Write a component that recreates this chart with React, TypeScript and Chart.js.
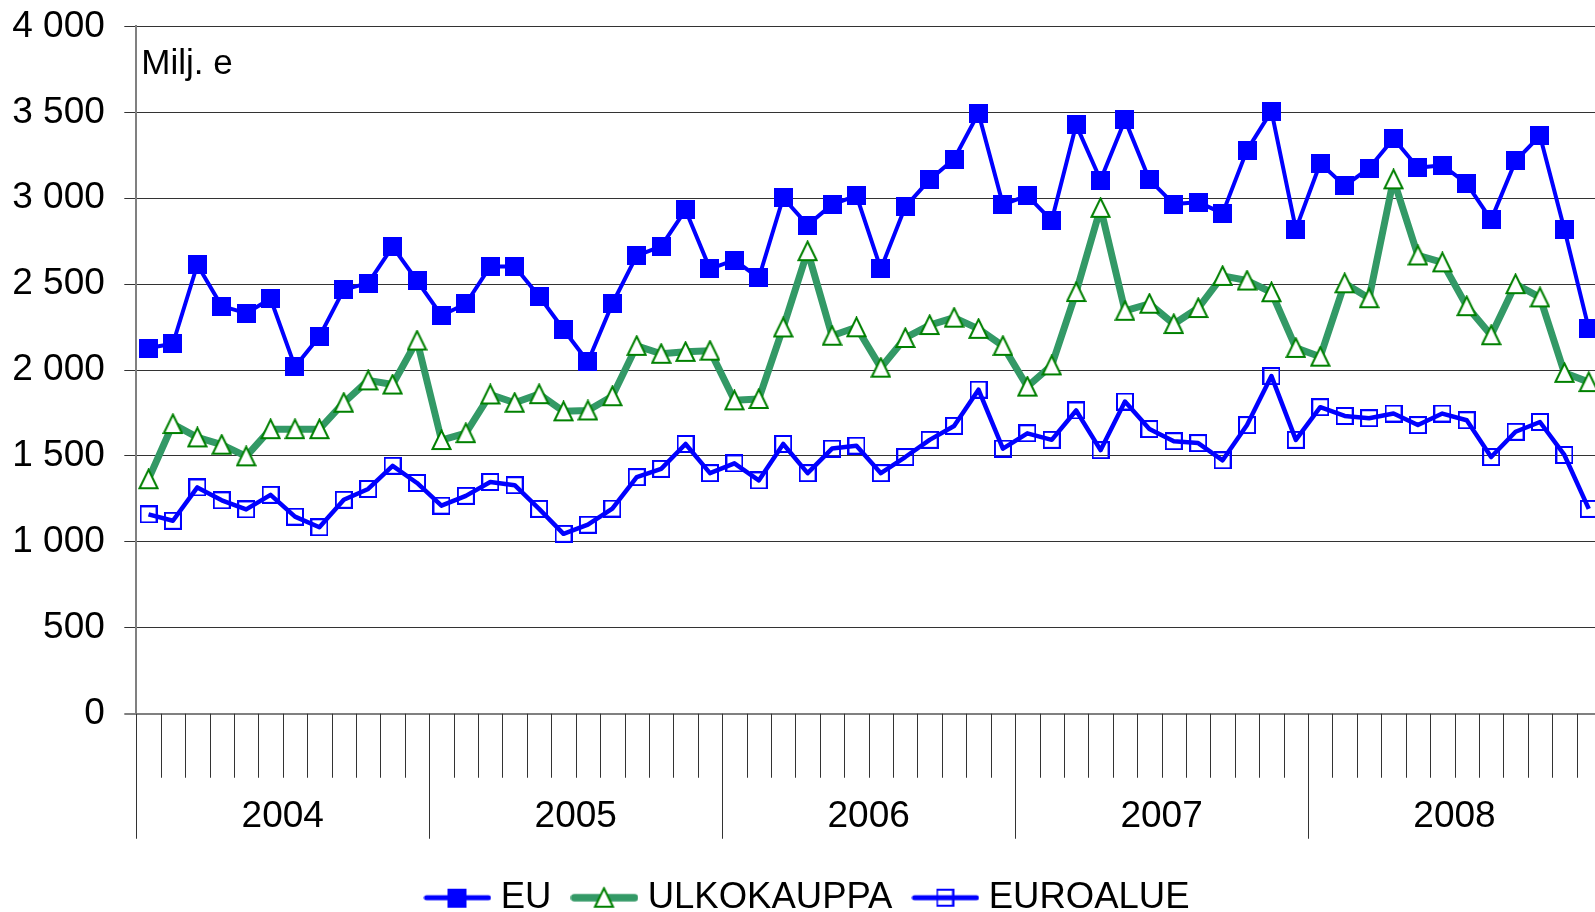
import React, { useEffect, useRef } from 'react';
import { Chart, registerables } from 'chart.js';

Chart.register(...registerables);

const years = ['2004', '2005', '2006', '2007', '2008'];
const monthNumbers = ['01', '02', '03', '04', '05', '06', '07', '08', '09', '10', '11', '12'];
const monthLabels = years.flatMap((y) => monthNumbers.map((m) => `${y}-${m}`));

const seriesNames = ['EU', 'ULKOKAUPPA', 'EUROALUE'];
const unitLabel = 'Milj. e';

const euValues = [
  2128, 2153, 2613, 2372, 2331, 2415, 2020, 2195, 2468, 2506, 2718, 2520,
  2318, 2386, 2603, 2603, 2430, 2236, 2048, 2386, 2666, 2720, 2932, 2589,
  2640, 2536, 3003, 2844, 2963, 3015, 2589, 2950, 3108, 3228, 3495, 2963,
  3015, 2870, 3427, 3106, 3456, 3108, 2966, 2977, 2912, 3280, 3507, 2820,
  3204, 3072, 3175, 3348, 3177, 3192, 3085, 2874, 3217, 3364, 2820, 2240,
];
const ulkokauppaValues = [
  1365, 1686, 1608, 1566, 1498, 1656, 1656, 1656, 1810, 1940, 1916, 2172,
  1593, 1633, 1858, 1810, 1860, 1760, 1765, 1848, 2141, 2095, 2106, 2113,
  1824, 1832, 2248, 2692, 2200, 2249, 2014, 2187, 2262, 2305, 2240, 2141,
  1904, 2027, 2454, 2944, 2345, 2386, 2268, 2361, 2548, 2521, 2453, 2129,
  2078, 2505, 2418, 3110, 2667, 2627, 2372, 2203, 2500, 2423, 1984, 1930,
];
const euroalueValues = [
  1160, 1123, 1317, 1242, 1189, 1274, 1147, 1085, 1245, 1308, 1443, 1343,
  1211, 1268, 1349, 1330, 1192, 1047, 1100, 1194, 1377, 1425, 1570, 1400,
  1457, 1358, 1570, 1400, 1543, 1560, 1400, 1494, 1594, 1675, 1886, 1543,
  1632, 1594, 1765, 1534, 1817, 1657, 1586, 1575, 1475, 1680, 1965, 1594,
  1784, 1733, 1720, 1747, 1680, 1747, 1708, 1494, 1641, 1698, 1506, 1192,
];

const yMin = 0;
const yMax = 4000;
const yStep = 500;

const FONT = '"Liberation Sans", Arial, Helvetica, sans-serif';
const BLUE = '#0000FF';
const GREEN_LINE = '#339966';
const GREEN_MARK = '#008000';

// layout constants
const CANVAS_W = 1612;
const PLOT_RIGHT = 1606;
const LEGEND_FONT = 36.5;
const LEGEND_PAD = 28;
const LEGEND_SHIFT_X = 8;
const LEGEND_CENTER_Y = 898;
const PLOT_TOP = 26.4;
const PLOT_BOTTOM = 714;
const CANVAS_H = LEGEND_CENTER_Y + 10 + LEGEND_FONT / 2;
const X_AXIS_H = CANVAS_H - (LEGEND_FONT + LEGEND_PAD + 10) - PLOT_BOTTOM;

function mkCanvas(w: number, h: number) {
  const c = document.createElement('canvas');
  c.width = w;
  c.height = h;
  return [c, c.getContext('2d')!] as const;
}

function euMarker() {
  const [c, g] = mkCanvas(19, 19);
  g.fillStyle = BLUE;
  g.fillRect(0, 0, 19, 19);
  return c;
}
function triMarker() {
  const [c, g] = mkCanvas(21, 22);
  g.beginPath();
  g.moveTo(10.5, 1.5);
  g.lineTo(19.5, 20);
  g.lineTo(1.5, 20);
  g.closePath();
  g.fillStyle = '#fff';
  g.fill();
  g.strokeStyle = GREEN_MARK;
  g.lineWidth = 2;
  g.lineJoin = 'miter';
  g.stroke();
  return c;
}
function hollowMarker() {
  const [c, g] = mkCanvas(18, 18);
  g.strokeStyle = BLUE;
  g.lineWidth = 2;
  g.strokeRect(1, 1, 16, 16);
  return c;
}

function makeIcon(kind: 'eu' | 'ulko' | 'euro'): HTMLCanvasElement {
  const [c, g] = mkCanvas(68, 26);
  const cy = 13;
  const cx = 33.5;
  g.lineCap = 'round';
  if (kind === 'eu') {
    g.strokeStyle = BLUE;
    g.lineWidth = 5;
    g.beginPath(); g.moveTo(3, cy); g.lineTo(65, cy); g.stroke();
    g.drawImage(euMarker(), cx - 9.5, cy - 9.5);
  } else if (kind === 'ulko') {
    g.strokeStyle = GREEN_LINE;
    g.lineWidth = 7.5;
    g.beginPath(); g.moveTo(4, cy); g.lineTo(64, cy); g.stroke();
    g.drawImage(triMarker(), cx - 10.5, cy - 11);
  } else {
    g.strokeStyle = BLUE;
    g.lineWidth = 5;
    g.beginPath(); g.moveTo(3, cy); g.lineTo(65, cy); g.stroke();
    g.drawImage(hollowMarker(), cx - 9, cy - 9);
  }
  return c;
}

const decorPlugin = {
  id: 'decor',
  afterLayout(chart: any) {
    if (chart.legend) {
      chart.legend.left += LEGEND_SHIFT_X;
      chart.legend.right += LEGEND_SHIFT_X;
    }
  },
  afterDraw(chart: any) {
    const { ctx, chartArea, scales } = chart;
    const x = scales.x;
    const n = monthLabels.length;
    const half = (x.getPixelForValue(1) - x.getPixelForValue(0)) / 2;
    ctx.save();
    ctx.strokeStyle = '#333';
    ctx.lineWidth = 1;
    for (let k = 0; k <= n; k++) {
      const px = k < n ? x.getPixelForValue(k) - half : x.getPixelForValue(n - 1) + half;
      const len = k % 12 === 0 ? 125 : 64;
      const xx = Math.round(px) + 0.5;
      ctx.beginPath();
      ctx.moveTo(xx, chartArea.bottom);
      ctx.lineTo(xx, chartArea.bottom + len);
      ctx.stroke();
    }
    ctx.fillStyle = '#000';
    ctx.font = `37px ${FONT}`;
    ctx.textAlign = 'center';
    ctx.textBaseline = 'middle';
    years.forEach((yr, j) => {
      const c = (x.getPixelForValue(j * 12) + x.getPixelForValue(j * 12 + 11)) / 2;
      ctx.fillText(yr, c, chartArea.bottom + 103);
    });
    ctx.textAlign = 'left';
    ctx.font = `35px ${FONT}`;
    ctx.fillText(unitLabel, chartArea.left + 5, chartArea.top + 38);
    ctx.restore();
  },
};

export default function App() {
  const ref = useRef<HTMLCanvasElement | null>(null);

  useEffect(() => {
    if (!ref.current) return;
    const icons = [makeIcon('eu'), makeIcon('ulko'), makeIcon('euro')];
    const chart = new Chart(ref.current, {
      type: 'line',
      data: {
        labels: monthLabels,
        datasets: [
          {
            label: seriesNames[0],
            data: euValues,
            borderColor: BLUE,
            borderWidth: 4,
            backgroundColor: BLUE,
            pointStyle: euMarker(),
            borderJoinStyle: 'round',
            tension: 0,
          },
          {
            label: seriesNames[1],
            data: ulkokauppaValues,
            borderColor: GREEN_LINE,
            borderWidth: 7,
            backgroundColor: '#fff',
            pointStyle: triMarker(),
            borderJoinStyle: 'round',
            tension: 0,
          },
          {
            label: seriesNames[2],
            data: euroalueValues,
            borderColor: BLUE,
            borderWidth: 4.5,
            backgroundColor: 'rgba(0,0,0,0)',
            pointStyle: hollowMarker(),
            borderJoinStyle: 'round',
            tension: 0,
          },
        ],
      },
      options: {
        responsive: false,
        animation: false,
        layout: { padding: { top: PLOT_TOP, right: CANVAS_W - PLOT_RIGHT, left: 0, bottom: 0 } },
        plugins: {
          tooltip: { enabled: false },
          title: { display: false },
          legend: {
            position: 'bottom',
            labels: {
              usePointStyle: true,
              pointStyleWidth: 50,
              padding: LEGEND_PAD,
              color: '#000',
              font: { size: LEGEND_FONT, family: FONT },
              generateLabels: (ch: any) =>
                ch.data.datasets.map((ds: any, i: number) => ({
                  text: ds.label,
                  pointStyle: icons[i],
                  fillStyle: 'rgba(0,0,0,0)',
                  strokeStyle: 'rgba(0,0,0,0)',
                  lineWidth: 0,
                  hidden: false,
                  datasetIndex: i,
                  fontColor: '#000',
                })),
            },
          },
        },
        scales: {
          x: {
            type: 'category',
            offset: true,
            grid: { display: false },
            border: { display: false },
            ticks: { display: false },
            afterFit: (s: any) => {
              s.height = X_AXIS_H;
            },
          },
          y: {
            min: yMin,
            max: yMax,
            ticks: {
              stepSize: yStep,
              color: '#000',
              padding: 19.5,
              font: { size: 37, family: FONT },
              callback: (v: any) => {
                const num = Number(v);
                return num >= 1000
                  ? `${Math.floor(num / 1000)} ${String(num % 1000).padStart(3, '0')}`
                  : String(num);
              },
            },
            grid: {
              color: (c: any) => (c.tick && c.tick.value === 0 ? '#808080' : '#333'),
              lineWidth: (c: any) => (c.tick && c.tick.value === 0 ? 2 : 1),
              tickLength: 12,
              drawTicks: true,
            },
            border: { color: '#808080', width: 2 },
            afterFit: (s: any) => {
              s.width = 136.3;
              s.paddingTop = 0;
              s.paddingBottom = 0;
            },
          },
        },
      },
      plugins: [decorPlugin],
    } as any);
    return () => chart.destroy();
  }, []);

  return (
    <div
      style={{
        position: 'absolute',
        left: 0,
        top: 0,
        width: 1595,
        height: 912,
        overflow: 'hidden',
        background: '#fff',
      }}
    >
      <canvas ref={ref} width={CANVAS_W} height={CANVAS_H} style={{ display: 'block' }} />
    </div>
  );
}
